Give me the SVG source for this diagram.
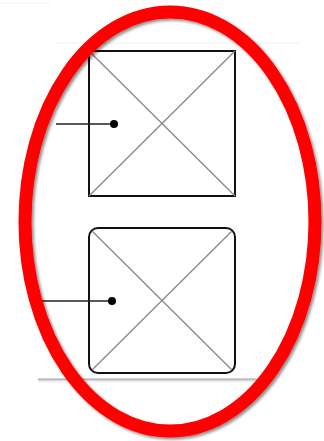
<svg xmlns="http://www.w3.org/2000/svg" width="324" height="441" viewBox="0 0 324 441">
<defs>
<style>
.box{fill:#fff;stroke:#111;stroke-width:2}
.diag{stroke:#888;stroke-width:1.3;fill:none}
.conn{stroke:#222;stroke-width:1.3;fill:none}
.dot{fill:#000}
</style>
<filter id="sh" x="-10%" y="-10%" width="120%" height="120%">
<feGaussianBlur in="SourceAlpha" stdDeviation="1.5"/>
<feOffset dx="1.5" dy="2" result="b"/>
<feComponentTransfer><feFuncA type="linear" slope="0.45"/></feComponentTransfer>
<feMerge><feMergeNode/><feMergeNode in="SourceGraphic"/></feMerge>
</filter>
<linearGradient id="lg" x1="0" y1="0" x2="0" y2="1">
<stop offset="0" stop-color="#999" stop-opacity="0.7"/>
<stop offset="1" stop-color="#fff" stop-opacity="0"/>
</linearGradient>
</defs>
<rect width="324" height="441" fill="#fff"/>
<line x1="0" y1="3" x2="50" y2="3" stroke="#f2f2f2" stroke-width="1"/>
<line x1="56" y1="43" x2="300" y2="43" stroke="#f0f0f0" stroke-width="1"/>
<rect x="38" y="379" width="220" height="5" fill="url(#lg)"/>
<line x1="38" y1="379" x2="258" y2="379" stroke="#aaa" stroke-width="1.2"/>
<g id="node1">
<rect class="box" x="89" y="51" width="146" height="145"/>
<line class="diag" x1="89" y1="51" x2="235" y2="196"/>
<line class="diag" x1="235" y1="51" x2="89" y2="196"/>
</g>
<g id="node2">
<rect class="box" x="89" y="228" width="146" height="145" rx="9" ry="9"/>
<line class="diag" x1="92" y1="231" x2="232" y2="370"/>
<line class="diag" x1="232" y1="231" x2="92" y2="370"/>
</g>
<g id="connectors">
<line class="conn" x1="56" y1="124" x2="114" y2="124"/>
<circle class="dot" cx="114" cy="124" r="4"/>
<line class="conn" x1="42" y1="301" x2="112" y2="301"/>
<circle class="dot" cx="112" cy="301" r="4"/>
</g>
<g id="highlight">
<ellipse cx="170" cy="221.5" rx="145" ry="209.5" fill="none" stroke="#f00" stroke-width="13" filter="url(#sh)"/>
</g>
</svg>
